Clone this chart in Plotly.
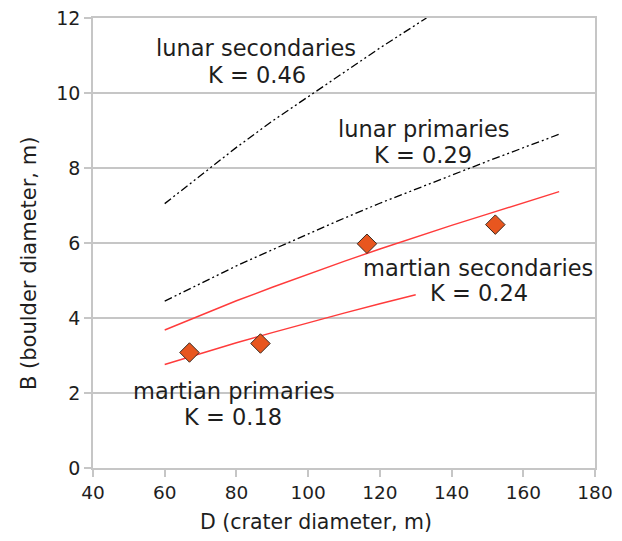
import plotly.graph_objects as go

# Data
lunar_sec_D = [60, 70, 80, 90, 100, 110, 120, 133]
lunar_sec_B = [7.05, 7.8, 8.55, 9.25, 9.9, 10.55, 11.2, 12.0]

lunar_pri_D = [60, 70, 80, 90, 100, 110, 120, 130, 140, 150, 160, 170]
lunar_pri_B = [4.45, 4.92, 5.39, 5.82, 6.25, 6.66, 7.06, 7.44, 7.82, 8.18, 8.54, 8.9]

mars_sec_D = [60, 70, 80, 90, 100, 110, 120, 130, 140, 150, 160, 170]
mars_sec_B = [3.68, 4.08, 4.46, 4.82, 5.17, 5.51, 5.84, 6.16, 6.47, 6.77, 7.07, 7.37]

mars_pri_D = [60, 70, 80, 90, 100, 110, 120, 130]
mars_pri_B = [2.76, 3.06, 3.34, 3.61, 3.88, 4.13, 4.38, 4.62]

obs_D = [66.9, 86.7, 116.4, 152.2]
obs_B = [3.08, 3.32, 5.98, 6.49]

x_ticks = [40, 60, 80, 100, 120, 140, 160, 180]
y_ticks = [0, 2, 4, 6, 8, 10, 12]

FONT = "DejaVu Sans"
TXT = "#1e1e1e"
GRID = "#c6c6c6"

W, H = 622, 541
OFF_X, OFF_Y = 6, 7  # page offset of the figure inside the window
ML, MR, MT, MB = 91, 29, 17, 74
pw, ph = W - ML - MR, H - MT - MB


def fx(px):
    return (px - ML) / pw


def fy(py):
    return 1 - (py - MT) / ph


fig = go.Figure()
dash_pat = "8px,3px,2px,3px,2px,3px"
fig.add_trace(go.Scatter(x=lunar_sec_D, y=lunar_sec_B, mode="lines",
                         line=dict(color="black", width=1.3, dash=dash_pat)))
fig.add_trace(go.Scatter(x=lunar_pri_D, y=lunar_pri_B, mode="lines",
                         line=dict(color="black", width=1.3, dash=dash_pat)))
fig.add_trace(go.Scatter(x=mars_sec_D, y=mars_sec_B, mode="lines",
                         line=dict(color="#ff3b3b", width=1.4)))
fig.add_trace(go.Scatter(x=mars_pri_D, y=mars_pri_B, mode="lines",
                         line=dict(color="#ff3b3b", width=1.4)))
fig.add_trace(go.Scatter(x=obs_D, y=obs_B, mode="markers",
                         marker=dict(symbol="diamond", size=15, color="#e8561f",
                                     line=dict(color="#3a2a20", width=1))))

labels = [
    ("lunar secondaries", 254, 47), ("K = 0.46", 255, 74),
    ("lunar primaries", 422, 128), ("K = 0.29", 421, 154),
    ("martian secondaries", 476, 267), ("K = 0.24", 477, 292),
    ("martian primaries", 232, 390), ("K = 0.18", 231, 416),
]
for t, px, py in labels:
    fig.add_annotation(text=t, x=fx(px), y=fy(py), xref="paper", yref="paper",
                       xanchor="center", yanchor="middle", showarrow=False,
                       font=dict(family=FONT, size=22.5, color=TXT))

# axis titles
fig.add_annotation(text="D (crater diameter, m)", x=fx(314), y=fy(521),
                   xref="paper", yref="paper", xanchor="center", yanchor="middle",
                   showarrow=False, font=dict(family=FONT, size=20.5, color=TXT))
fig.add_annotation(text="B (boulder diameter, m)", x=fx(27), y=fy(263),
                   xref="paper", yref="paper", xanchor="center", yanchor="middle",
                   showarrow=False, textangle=-90,
                   font=dict(family=FONT, size=21, color=TXT))

fig.update_layout(
    width=W, height=H, showlegend=False,
    margin=dict(l=ML - OFF_X, r=MR + OFF_X, t=MT - OFF_Y, b=MB + OFF_Y, pad=0,
                autoexpand=False),
    paper_bgcolor="white", plot_bgcolor="white",
    font=dict(family=FONT, color=TXT),
)
fig.update_xaxes(range=[40, 180], tickvals=x_ticks, showgrid=False, zeroline=False,
                 automargin=False, ticklabeloverflow="allow",
                 showline=True, linecolor=GRID, linewidth=1.5, mirror=True,
                 ticks="outside", ticklen=7, tickcolor=GRID, tickwidth=1.5,
                 tickfont=dict(family=FONT, size=18.5, color=TXT))
fig.update_yaxes(range=[0, 12], tickvals=y_ticks, showgrid=True, gridcolor=GRID, gridwidth=1.5,
                 automargin=False, ticklabeloverflow="allow",
                 zeroline=False, showline=True, linecolor=GRID, linewidth=1.5, mirror=True,
                 ticks="outside", ticklen=7, tickcolor=GRID, tickwidth=1.5,
                 tickfont=dict(family=FONT, size=19, color=TXT))

fig.write_html("out.html")
